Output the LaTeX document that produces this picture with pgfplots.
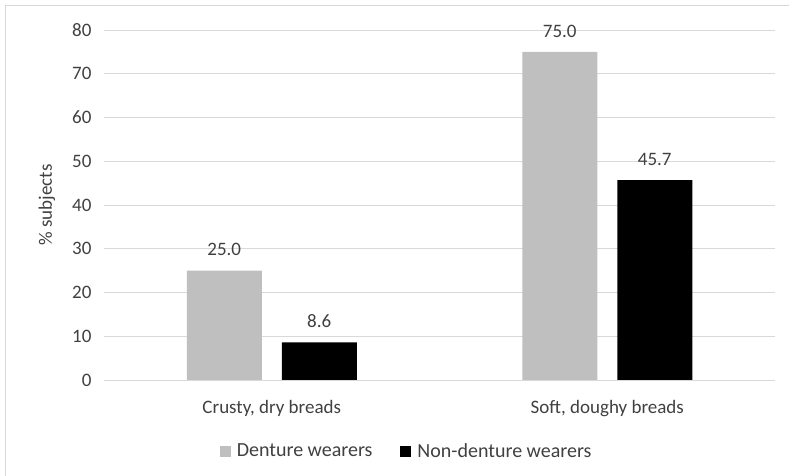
\documentclass[border=0pt]{standalone}
\usepackage{pgfplots}
\pgfplotsset{compat=1.18}
\usepackage{fontspec}
\setmainfont{Carlito}
\definecolor{denture}{HTML}{BFBFBF}
\definecolor{gridgray}{HTML}{D9D9D9}
\definecolor{txt}{HTML}{404040}

\begin{document}
\begin{tikzpicture}[x=1bp,y=1bp]
\useasboundingbox (0,0) rectangle (789,-476);
\draw[gridgray, line width=1.5bp] (5.5,-600) -- (5.5,-5.5) -- (900,-5.5);
\begin{axis}[
    at={(104bp,-380bp)}, anchor=south west,
    width=671bp, height=350bp, scale only axis,
    xmin=-0.5, xmax=1.5, ymin=0, ymax=80,
    ytick={0,10,...,80},
    xtick={0,1},
    xticklabels={{Crusty, dry breads},{Soft, doughy breads}},
    ymajorgrids, grid style={gridgray, line width=1bp},
    axis line style={draw=none},
    major tick length=0pt,
    font=\fontsize{19bp}{23bp}\selectfont,
    tick label style={text=txt},
    /pgf/number format/assume math mode=true,
    yticklabel style={xshift=-9bp},
    xticklabel style={yshift=-17bp},
    ylabel={\% subjects},
    ylabel style={at={(axis description cs:-0.085,0.5)}, anchor=center, text=txt},
    ybar=20bp, bar width=75bp,
    nodes near coords={\pgfmathprintnumber[fixed,fixed zerofill,precision=1]{\pgfplotspointmeta}},
    every node near coord/.append style={text=txt, yshift=11bp},
    legend columns=2,
    legend style={at={(0.451,-0.203)}, anchor=center, draw=none, fill=none,
        text=txt, font=\fontsize{20bp}{24bp}\selectfont,
        /tikz/every odd column/.append style={column sep=4bp},
        /tikz/every even column/.append style={column sep=26bp}},
    legend image code/.code={\fill[#1] (0bp,-5.5bp) rectangle (11bp,5.5bp);},
]
\addplot[fill=denture, draw=none] coordinates {(0,25.0) (1,75.0)};
\addplot[fill=black, draw=none] coordinates {(0,8.6) (1,45.7)};
\draw[gridgray, line width=1bp] (axis cs:-0.5,0) -- (axis cs:1.5,0);
\legend{Denture wearers, Non-denture wearers}
\end{axis}
\end{tikzpicture}
\end{document}
